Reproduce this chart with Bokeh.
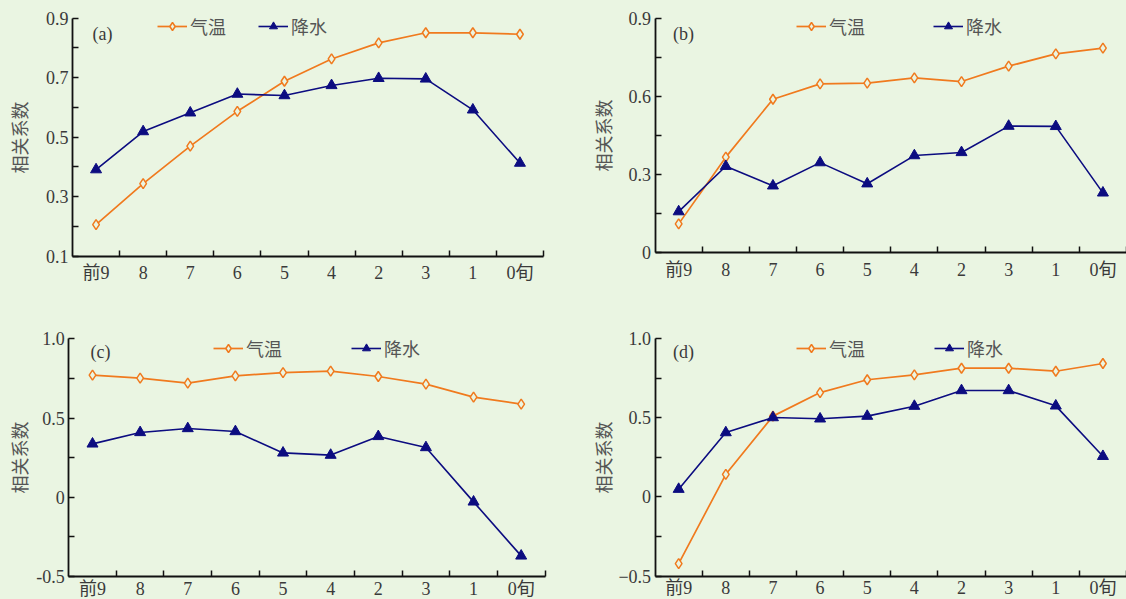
import numpy as np
from bokeh.plotting import figure
from bokeh.models import (ColumnDataSource, FixedTicker, Range1d, Legend, LegendItem, Label,
                          LinearAxis)
from bokeh.layouts import column, row
from bokeh.embed import file_html
from bokeh.resources import INLINE

# ---------------- data ----------------
periods = ["前9", "8", "7", "6", "5", "4", "2", "3", "1", "0旬"]
series_names = ["气温", "降水"]
y_title = "相关系数"

temp_a = [0.206, 0.344, 0.470, 0.587, 0.688, 0.763, 0.817, 0.851, 0.851, 0.846]
prec_a = [0.391, 0.519, 0.582, 0.645, 0.640, 0.674, 0.698, 0.696, 0.592, 0.413]
temp_b = [0.111, 0.367, 0.589, 0.648, 0.651, 0.671, 0.657, 0.716, 0.763, 0.785]
prec_b = [0.158, 0.332, 0.257, 0.346, 0.265, 0.373, 0.385, 0.486, 0.485, 0.230]
temp_c = [0.771, 0.752, 0.720, 0.766, 0.787, 0.796, 0.762, 0.714, 0.632, 0.588]
prec_c = [0.337, 0.409, 0.434, 0.415, 0.280, 0.266, 0.384, 0.314, -0.029, -0.370]
temp_d = [-0.422, 0.143, 0.511, 0.660, 0.741, 0.772, 0.814, 0.814, 0.795, 0.844]
prec_d = [0.049, 0.407, 0.502, 0.494, 0.511, 0.574, 0.673, 0.673, 0.576, 0.257]

yticks_a = [0.1, 0.3, 0.5, 0.7, 0.9]
yminor_a = [0.2, 0.4, 0.6, 0.8]
ylabels_a = ["0.1", "0.3", "0.5", "0.7", "0.9"]
yticks_b = [0.0, 0.3, 0.6, 0.9]
yminor_b = [0.15, 0.45, 0.75]
ylabels_b = ["0", "0.3", "0.6", "0.9"]
yticks_c = [-0.5, 0.0, 0.5, 1.0]
yminor_c = [-0.25, 0.25, 0.75]
ylabels_c = ["-0.5", "0", "0.5", "1.0"]
yticks_d = [-0.5, 0.0, 0.5, 1.0]
yminor_d = [-0.25, 0.25, 0.75]
ylabels_d = ["\u22120.5", "0", "0.5", "1.0"]

# ---------------- style ----------------
BG = "#EAF5E2"
ORANGE = "#F07A1E"
NAVY = "#0C0C80"
AXIS = "#111111"
NUM_COLOR = "#3A3A3A"
CJK_COLOR = "#555555"
SERIF = "'Liberation Serif', 'Noto Sans CJK SC', serif"
CJK = "'Noto Sans CJK SC', sans-serif"
FS = "18px"


def panel(tag, temp, prec, ylo, yhi, yticks, yminor, ylabels,
          fig_w, fig_h, box, ytitle_standoff, xlabel_standoff,
          legend_pos, legend_spacing, tag_pos):
    """box = (left, right, top, bottom) of the axes rectangle in figure pixels."""
    n = len(periods)
    left, right, top, bottom = box
    px_x = (right - left) / n
    px_y = (bottom - top) / (yhi - ylo)
    # the frame covers the whole figure; the axes sit at fixed data locations
    x_range = Range1d(-left / px_x, n + (fig_w - right) / px_x)
    y_range = Range1d(ylo - (fig_h - bottom) / px_y, yhi + top / px_y)

    p = figure(width=fig_w, height=fig_h, x_range=x_range, y_range=y_range,
               output_backend="svg", toolbar_location=None, x_axis_location=None,
               y_axis_location=None, min_border=0,
               background_fill_color=BG, border_fill_color=BG, outline_line_color=None)
    p.xgrid.visible = False
    p.ygrid.visible = False

    xs = [i + 0.5 for i in range(n)]
    src = ColumnDataSource(dict(x=xs, period=periods, temp=temp, prec=prec))

    lt = p.line("x", "temp", source=src, line_color=ORANGE, line_width=1.7)
    st = p.scatter("x", "temp", source=src, marker="diamond", size=10,
                   fill_color=BG, line_color=ORANGE, line_width=1.5)
    lp = p.line("x", "prec", source=src, line_color=NAVY, line_width=1.6)
    sp = p.scatter("x", "prec", source=src, marker="triangle", size=11,
                   fill_color=NAVY, line_color=NAVY)

    # x axis: labels at category centres, ticks at category boundaries
    xa = LinearAxis(fixed_location=ylo, bounds=(0, n))
    xa.ticker = FixedTicker(ticks=xs, minor_ticks=[float(i) for i in range(1, n + 1)])
    xa.major_label_overrides = dict(zip(xs, periods))
    xa.major_tick_in = 0
    xa.major_tick_out = 0
    xa.minor_tick_in = 6
    xa.minor_tick_out = 0
    xa.minor_tick_line_color = AXIS
    xa.minor_tick_line_width = 1.5
    xa.axis_line_color = AXIS
    xa.axis_line_width = 1.8
    xa.major_label_standoff = xlabel_standoff
    xa.major_label_text_font = SERIF
    xa.major_label_text_font_size = FS
    xa.major_label_text_color = NUM_COLOR
    p.add_layout(xa, "below")

    ya = LinearAxis(fixed_location=0, bounds=(ylo, yhi))
    ya.ticker = FixedTicker(ticks=yticks, minor_ticks=yminor)
    ya.major_label_overrides = dict(zip(yticks, ylabels))
    ya.major_tick_in = 6
    ya.major_tick_out = 0
    ya.minor_tick_in = 6
    ya.minor_tick_out = 0
    ya.major_tick_line_color = AXIS
    ya.minor_tick_line_color = AXIS
    ya.major_tick_line_width = 1.5
    ya.minor_tick_line_width = 1.5
    ya.axis_line_color = AXIS
    ya.axis_line_width = 1.8
    ya.major_label_standoff = 4
    ya.major_label_text_font = SERIF
    ya.major_label_text_font_size = FS
    ya.major_label_text_color = NUM_COLOR
    ya.axis_label = y_title
    ya.axis_label_text_font = CJK
    ya.axis_label_text_font_size = FS
    ya.axis_label_text_font_style = "normal"
    ya.axis_label_text_color = CJK_COLOR
    ya.axis_label_standoff = ytitle_standoff
    p.add_layout(ya, "left")

    lx, ly = legend_pos
    legend = Legend(items=[LegendItem(label=series_names[0], renderers=[lt, st]),
                           LegendItem(label=series_names[1], renderers=[lp, sp])],
                    orientation="horizontal",
                    location=(lx, fig_h - ly - 10),
                    glyph_width=30, glyph_height=20, label_height=20, label_width=20,
                    label_standoff=3, spacing=legend_spacing, padding=0, margin=0,
                    border_line_color=None, background_fill_alpha=0,
                    label_text_font=CJK, label_text_font_size=FS,
                    label_text_color=CJK_COLOR)
    p.add_layout(legend)

    tx, ty = tag_pos
    p.add_layout(Label(x=(tx - left) / px_x, y=yhi - (ty - top) / px_y, text=f"({tag})",
                       text_font=SERIF, text_font_size=FS, text_color=NUM_COLOR,
                       text_align="left", text_baseline="middle"))
    return p


pa = panel("a", temp_a, prec_a, 0.1, 0.9, yticks_a, yminor_a, ylabels_a,
           563, 300, (72, 543, 17.7, 255.7), 11, 7, (157, 29), 32, (92, 33))
pb = panel("b", temp_b, prec_b, 0.0, 0.9, yticks_b, yminor_b, ylabels_b,
           563, 300, (91.6, 563, 17.7, 252.3), 10, 7, (233, 29), 68, (109.5, 33))
pc = panel("c", temp_c, prec_c, -0.5, 1.0, yticks_c, yminor_c, ylabels_c,
           563, 299, (68.2, 544.5, 38.3, 276), 1, 2, (213, 51), 69, (90, 51.7))
pd_ = panel("d", temp_d, prec_d, -0.5, 1.0, yticks_d, yminor_d, ylabels_d,
            563, 299, (91.6, 563, 38.3, 275.5), 0, 2, (233, 51), 69, (109.5, 51.7))

layout = column(row(pa, pb, styles={"background-color": BG}),
                row(pc, pd_, styles={"background-color": BG}),
                styles={"background-color": BG})
open("out.html", "w").write(file_html(layout, INLINE))
